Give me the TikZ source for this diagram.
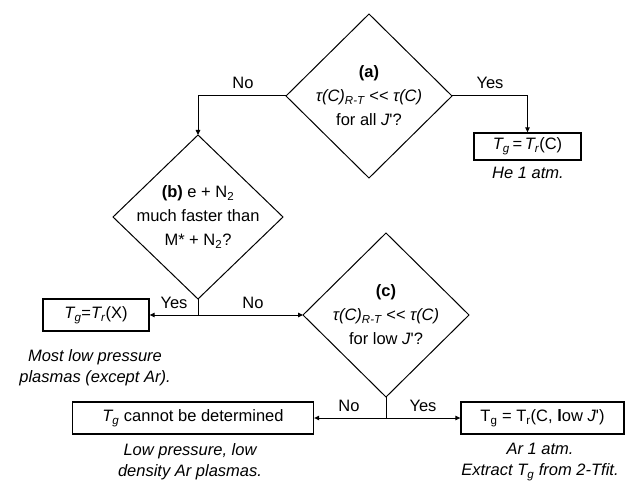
\documentclass[tikz,border=0pt]{standalone}
\usepackage{fontspec}
\setmainfont{Liberation Sans}
\usetikzlibrary{shapes.geometric,arrows.meta}
\begin{document}
\begin{tikzpicture}[x=1pt,y=-1pt,
  every node/.style={font=\fontsize{16.5}{22}\selectfont},
  dia/.style={diamond,draw,line width=1pt,inner sep=0pt,outer sep=0pt,minimum width=166pt,minimum height=164pt},
  dtext/.style={align=center,inner sep=0pt,font=\fontsize{16.5}{24}\selectfont},
  box/.style={draw,line width=1.3pt,inner sep=0pt,minimum height=32pt},
  lbl/.style={inner sep=0pt},
  note/.style={align=center,inner sep=0pt,font=\fontsize{16.5}{21}\selectfont\itshape},
  arr/.style={line width=1pt,-{Triangle[length=5pt,width=4.5pt]}},
  ln/.style={line width=1pt}]
\useasboundingbox (0,0) rectangle (629,484);

% decisions
\node[dia,label={[dtext]center:{\textbf{(a)}\\\textit{τ(C)\textsubscript{R-T} <\kern0pt< τ(C)}\\for all \textit{J}\textquotesingle?}}] (a) at (369,96) {};
\node[dia,minimum width=170pt,label={[dtext]center:{\textbf{(b)} e + N\textsubscript{2}\\much faster than\\M* + N\textsubscript{2}?}}] (b) at (198,217) {};
\node[dia,label={[dtext]center:{\textbf{(c)}\\\textit{τ(C)\textsubscript{R-T} <\kern0pt< τ(C)}\\for low \textit{J}\textquotesingle?}}] (c) at (386,315) {};

% result boxes
\node[box,minimum width=107pt,minimum height=27pt] (tc) at (527.5,146.5) {\textit{T\textsubscript{g}}\,=\,\textit{T\textsubscript{r}}(C)};
\node[box,minimum width=106pt] (tx) at (96,315) {\textit{T\textsubscript{g}}=\textit{T\textsubscript{r}}(X)};
\node[box,minimum width=241pt] (nd) at (193,418) {\textit{T\textsubscript{g}} cannot be determined};
\node[box,minimum width=163pt] (lj) at (542.5,418) {T\textsubscript{g} = T\textsubscript{r}(C, \textbf{l}ow \textit{J}\textquotesingle)};

% notes
\node[note] (nc) at (528,173) {He 1 atm.};
\node[note] (nx) at (95,368) {Most low pressure\\plasmas (except Ar).};
\node[note] (nnd) at (190,462) {Low pressure, low\\density Ar plasmas.};
\node[note] (nlj) at (540,462) {Ar 1 atm.\\Extract \textit{T}\textsubscript{g} from 2-Tfit.};

% connectors
\draw[arr] (a.west) -| (b.north);
\draw[arr] (a.east) -| (tc.north);
\coordinate (jb) at (b.south |- tx.east);
\draw[ln] (b.south) -- (jb);
\draw[arr] (jb) -- (tx.east);
\draw[arr] (jb) -- (c.west);
\coordinate (jc) at (c.south |- nd.east);
\draw[ln] (c.south) -- (jc);
\draw[arr] (jc) -- (nd.east);
\draw[arr] (jc) -- (lj.west);

% branch labels
\node[lbl] (noa) at (243,83) {No};
\node[lbl] (yesa) at (490,83) {Yes};
\node[lbl] (yesb) at (174,303) {Yes};
\node[lbl] (nob) at (253,303) {No};
\node[lbl] (noc) at (349,406) {No};
\node[lbl] (yesc) at (423,406) {Yes};
\end{tikzpicture}
\end{document}
